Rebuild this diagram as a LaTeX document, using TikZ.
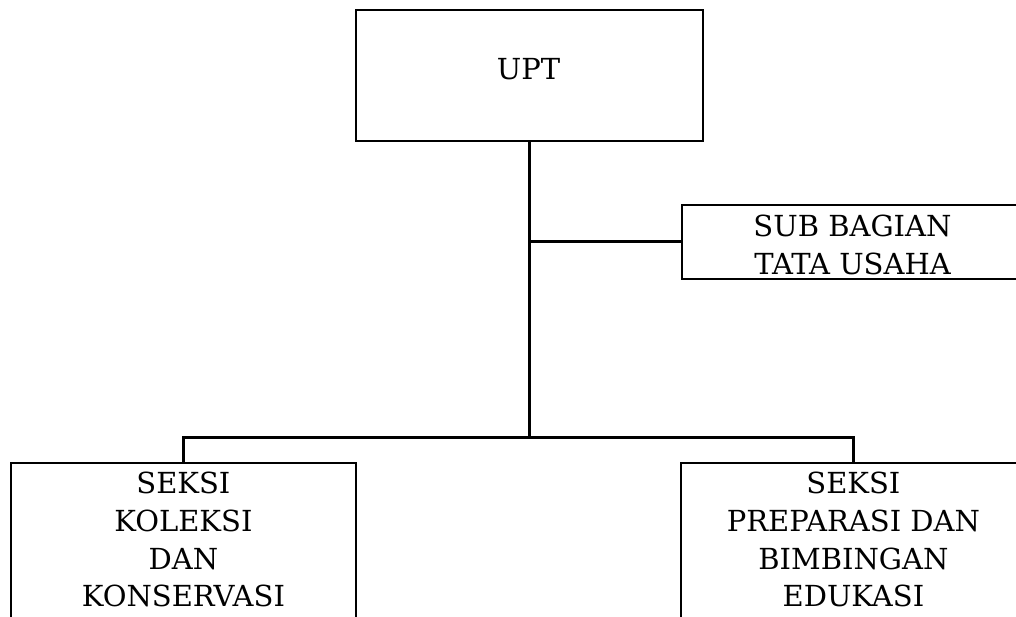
\documentclass[tikz,border=0pt]{standalone}
\usepackage{fontspec}
\setmainfont{DejaVu Serif}
\tikzset{
  x=1pt, y=-1pt,
  unitbox/.style={draw=black, line width=1.8pt, inner sep=0pt, minimum width=345pt},
  label text/.style={inner sep=0pt, align=center, font=\fontsize{29}{37.7}\selectfont},
  link/.style={draw=black, line width=3pt}
}
\begin{document}
\begin{tikzpicture}
  \useasboundingbox (0,0) rectangle (1016,616);
  \clip (0,0) rectangle (1016,616);

  % boxes
  \node[unitbox, minimum width=347pt, minimum height=131pt, anchor=north west] (upt) at (355,9) {};
  \node[unitbox, minimum height=74pt, anchor=north west] (tu) at (681,204) {};
  \node[unitbox, minimum height=200pt, anchor=north west] (kol) at (10,462) {};
  \node[unitbox, minimum height=200pt, anchor=north west] (prep) at (680,462) {};

  % texts
  \node[label text, anchor=base] (uptt) at (528.5,79) {UPT};
  \node[label text, anchor=north] (tut) at (852.5,215) {SUB BAGIAN\\TATA USAHA};
  \node[label text, anchor=north] (kolt) at ([yshift=-10pt]kol.north) {SEKSI\\KOLEKSI\\DAN\\KONSERVASI};
  \node[label text, anchor=north] (prept) at ([yshift=-10pt]prep.north) {SEKSI\\PREPARASI DAN\\BIMBINGAN\\EDUKASI};

  % connectors
  \coordinate (split) at (upt.south |- 0,437);
  \coordinate (tap) at (upt.south |- tu.west);
  \draw[link] (upt.south) -- (split);
  \draw[link] (tap) -- (tu.west);
  \draw[link] (kol.north) |- (split) -| (prep.north);
\end{tikzpicture}
\end{document}
